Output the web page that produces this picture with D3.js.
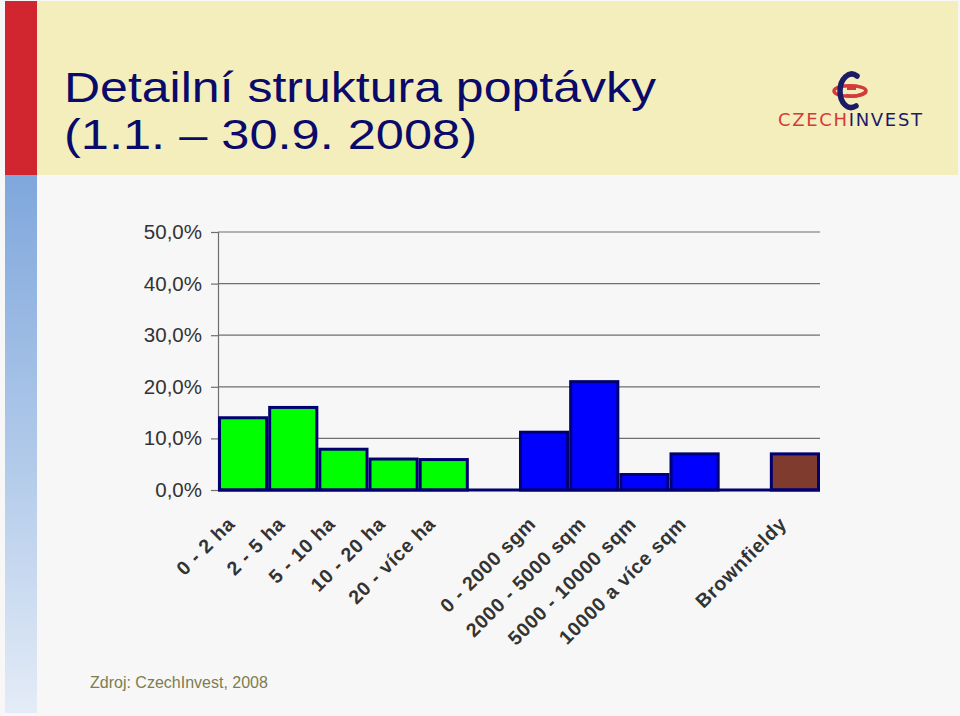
<!DOCTYPE html>
<html>
<head>
<meta charset="utf-8">
<script src="https://cdn.jsdelivr.net/npm/d3@7/dist/d3.min.js"></script>
<style>
  html, body { margin: 0; padding: 0; background: #f7f7f7; }
  svg { display: block; }
</style>
</head>
<body>
<svg id="chart" width="960" height="716"></svg>
<script>
// ---- data ----
const categories = ["0 - 2 ha", "2 - 5 ha", "5 - 10 ha", "10 - 20 ha", "20 - více ha", "",
                    "0 - 2000 sgm", "2000 - 5000 sqm", "5000 - 10000 sqm", "10000 a více sqm", "",
                    "Brownfieldy"];
const slotKeys = ["c0", "c1", "c2", "c3", "c4", "gap1", "c5", "c6", "c7", "c8", "gap2", "c9"];
const values = [14.0, 16.0, 7.9, 6.0, 5.9, null, 11.2, 21.0, 3.0, 7.0, null, 7.0];
const groups = ["plochy", "plochy", "plochy", "plochy", "plochy", null,
                "budovy", "budovy", "budovy", "budovy", null, "brownfield"];
const yTicks = [0, 10, 20, 30, 40, 50];
const yTickLabels = ["0,0%", "10,0%", "20,0%", "30,0%", "40,0%", "50,0%"];
const titleLines = ["Detailní struktura poptávky", "(1.1. – 30.9. 2008)"];
const sourceText = "Zdroj: CzechInvest, 2008";

const groupColor = { plochy: "#00ff00", budovy: "#0000ff", brownfield: "#7f3b2e" };

const svg = d3.select("#chart");

// ---- background decoration ----
const defs = svg.append("defs");
const grad = defs.append("linearGradient").attr("id", "blueStripe")
  .attr("x1", 0).attr("y1", 0).attr("x2", 0).attr("y2", 1);
grad.append("stop").attr("offset", "0%").attr("stop-color", "#7fa7dc");
grad.append("stop").attr("offset", "55%").attr("stop-color", "#b3cbea");
grad.append("stop").attr("offset", "100%").attr("stop-color", "#e4ecf7");

svg.append("rect").attr("x", 37).attr("y", 1).attr("width", 921).attr("height", 174).attr("fill", "#f4eebd");
svg.append("rect").attr("x", 5).attr("y", 1).attr("width", 32).attr("height", 174).attr("fill", "#d12530");
svg.append("rect").attr("x", 5).attr("y", 175).attr("width", 32).attr("height", 538).attr("fill", "url(#blueStripe)");

// ---- title ----
const titleWidths = [592, 413];
svg.append("g").selectAll("text").data(titleLines).join("text")
  .attr("x", 64)
  .attr("y", (d, i) => 102 + i * 47)
  .attr("font-family", "Liberation Sans, Arial, sans-serif")
  .attr("font-size", 42)
  .attr("fill", "#0a0a6a")
  .attr("textLength", (d, i) => titleWidths[i])
  .attr("lengthAdjust", "spacingAndGlyphs")
  .text(d => d);

// ---- logo ----
const logo = svg.append("g");
logo.append("path")
  .attr("d", "M834,91 C834,84 866,84 866,91 C866,98 834,98 834,91 Z")
  .attr("fill", "none").attr("stroke", "#d43a3a").attr("stroke-width", 3.5);
logo.append("path")
  .attr("d", "M857,76 C849,70 840,79 840,91 C840,103 848,111 856,106")
  .attr("fill", "none").attr("stroke", "#1b1b66").attr("stroke-width", 5.5).attr("stroke-linecap", "round");
logo.append("path")
  .attr("d", "M846,95.5 C852,97 860,96 866,92")
  .attr("fill", "none").attr("stroke", "#d43a3a").attr("stroke-width", 3.5);
logo.append("rect").attr("x", 847).attr("y", 86).attr("width", 9).attr("height", 4).attr("fill", "#d43a3a");
const logoText = logo.append("text").attr("x", 778).attr("y", 126)
  .attr("font-family", "DejaVu Sans, Liberation Sans, sans-serif")
  .attr("font-size", 18)
  .attr("textLength", 144).attr("lengthAdjust", "spacing");
logoText.append("tspan").attr("fill", "#d43a3a").text("CZECH");
logoText.append("tspan").attr("fill", "#1b1b66").text("INVEST");

// ---- chart ----
const x = d3.scaleBand().domain(slotKeys).range([218, 820]).padding(0);
const y = d3.scaleLinear().domain([0, 50]).range([490, 232]);

// gridlines
svg.append("g").selectAll("line").data(yTicks.filter(t => t > 0)).join("line")
  .attr("x1", 218).attr("x2", 820)
  .attr("y1", d => y(d)).attr("y2", d => y(d))
  .attr("stroke", "#6f6f6f").attr("stroke-width", 1.2);

// y axis
const yAxis = d3.axisLeft(y).tickValues(yTicks).tickSize(7).tickPadding(9)
  .tickFormat((d, i) => yTickLabels[i]);
const yg = svg.append("g").attr("transform", "translate(218,0)").call(yAxis);
yg.select(".domain").attr("stroke", "#6f6f6f").attr("stroke-width", 1.2);
yg.selectAll(".tick line").attr("stroke", "#6f6f6f").attr("stroke-width", 1.2);
yg.selectAll(".tick text").attr("font-family", "Liberation Sans, Arial, sans-serif")
  .attr("font-size", 20.5).attr("fill", "#333333");

// bars
const barData = slotKeys.map((k, i) => ({ key: k, value: values[i], group: groups[i] }))
  .filter(d => d.value != null);
svg.append("g").selectAll("rect").data(barData).join("rect")
  .attr("x", d => x(d.key) + 1.5)
  .attr("width", d => x.bandwidth() - 3)
  .attr("y", d => y(d.value))
  .attr("height", d => y(0) - y(d.value))
  .attr("fill", d => groupColor[d.group])
  .attr("stroke", "#000070").attr("stroke-width", 3);

// baseline
svg.append("line").attr("x1", 218).attr("x2", 820).attr("y1", y(0)).attr("y2", y(0))
  .attr("stroke", "#000070").attr("stroke-width", 3);

// x labels
svg.append("g").selectAll("text").data(slotKeys.map((k, i) => ({ key: k, label: categories[i] })))
  .join("text")
  .attr("transform", d => `translate(${x(d.key) + x.bandwidth() / 2 - 7},${y(0) + 35}) rotate(-45)`)
  .attr("text-anchor", "end")
  .attr("font-family", "Liberation Sans, Arial, sans-serif")
  .attr("font-weight", "bold")
  .attr("font-size", 19.5)
  .attr("letter-spacing", 0.7)
  .attr("fill", "#333333")
  .text(d => d.label);

// source
svg.append("text").attr("x", 90).attr("y", 688)
  .attr("font-family", "Liberation Sans, Arial, sans-serif")
  .attr("font-size", 16).attr("fill", "#7d7d4e")
  .text(sourceText);
</script>
</body>
</html>
